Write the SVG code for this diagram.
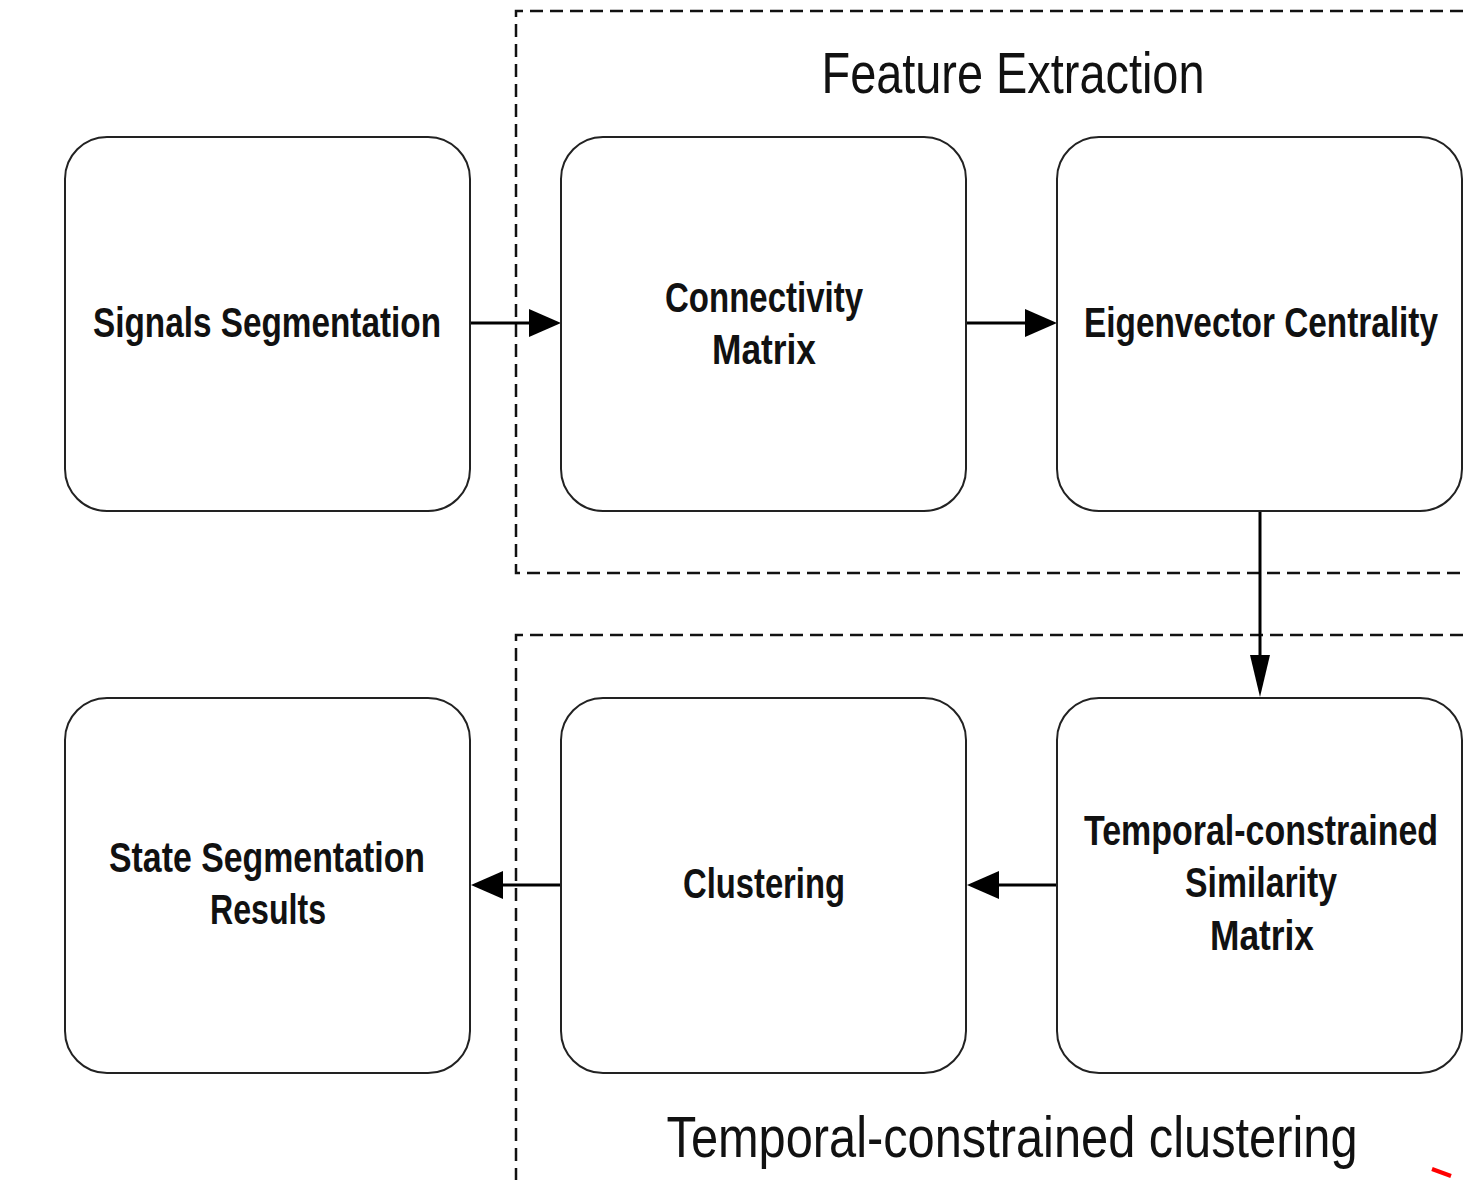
<svg xmlns="http://www.w3.org/2000/svg" width="1463" height="1184" viewBox="0 0 1463 1184">
<style>
.node{fill:#fff;stroke:#222;stroke-width:2}
.lbl{font-family:"Liberation Sans",Arial,sans-serif;font-weight:bold;font-size:42px;fill:#111;text-anchor:middle}
.ttl{font-family:"Liberation Sans",Arial,sans-serif;font-size:58px;fill:#111;text-anchor:middle}
.dash{fill:none;stroke:#111;stroke-width:2.5;stroke-dasharray:13 7}
.conn{stroke:#000;stroke-width:3;fill:none}
</style>
<defs>
<marker id="ah" markerWidth="10" markerHeight="8" refX="10" refY="4" orient="auto" markerUnits="userSpaceOnUse" viewBox="0 0 10 8">
<path d="M0,0 L10,4 L0,8 Z" fill="#000"/>
</marker>
</defs>
<rect width="1463" height="1184" fill="#fff"/>
<g id="groups">
<path class="dash" d="M1463,11 H516 V573 H1463"/>
<path class="dash" d="M1463,635 H516 V1180"/>
<text class="ttl" x="1013" y="93" textLength="383" lengthAdjust="spacingAndGlyphs">Feature Extraction</text>
<text class="ttl" x="1012" y="1157" textLength="691" lengthAdjust="spacingAndGlyphs">Temporal-constrained clustering</text>
</g>
<g id="connectors">
<line class="conn" x1="470" y1="323" x2="530" y2="323"/>
<path d="M529,309 L561,323 L529,337 Z" fill="#000"/>
<line class="conn" x1="966" y1="323" x2="1026" y2="323"/>
<path d="M1025,309 L1057,323 L1025,337 Z" fill="#000"/>
<line class="conn" x1="1260" y1="511" x2="1260" y2="657"/>
<path d="M1250,655 L1260,697 L1270,655 Z" fill="#000"/>
<line class="conn" x1="1057" y1="885" x2="997" y2="885"/>
<path d="M999,871 L967,885 L999,899 Z" fill="#000"/>
<line class="conn" x1="561" y1="885" x2="501" y2="885"/>
<path d="M503,871 L471,885 L503,899 Z" fill="#000"/>
</g>
<g id="n1"><rect class="node" x="65" y="137" width="405" height="374" rx="42"/>
<text class="lbl" x="267" y="337" textLength="348" lengthAdjust="spacingAndGlyphs">Signals Segmentation</text></g>
<g id="n2"><rect class="node" x="561" y="137" width="405" height="374" rx="42"/>
<text class="lbl" x="764" y="312" textLength="198" lengthAdjust="spacingAndGlyphs">Connectivity</text>
<text class="lbl" x="764" y="364" textLength="104" lengthAdjust="spacingAndGlyphs">Matrix</text></g>
<g id="n3"><rect class="node" x="1057" y="137" width="405" height="374" rx="42"/>
<text class="lbl" x="1261" y="337" textLength="354" lengthAdjust="spacingAndGlyphs">Eigenvector Centrality</text></g>
<g id="n4"><rect class="node" x="65" y="698" width="405" height="375" rx="42"/>
<text class="lbl" x="267" y="872" textLength="316" lengthAdjust="spacingAndGlyphs">State Segmentation</text>
<text class="lbl" x="268" y="924" textLength="116" lengthAdjust="spacingAndGlyphs">Results</text></g>
<g id="n5"><rect class="node" x="561" y="698" width="405" height="375" rx="42"/>
<text class="lbl" x="764" y="898" textLength="162" lengthAdjust="spacingAndGlyphs">Clustering</text></g>
<g id="n6"><rect class="node" x="1057" y="698" width="405" height="375" rx="42"/>
<text class="lbl" x="1261" y="845" textLength="354" lengthAdjust="spacingAndGlyphs">Temporal-constrained</text>
<text class="lbl" x="1261" y="897" textLength="152" lengthAdjust="spacingAndGlyphs">Similarity</text>
<text class="lbl" x="1262" y="950" textLength="104" lengthAdjust="spacingAndGlyphs">Matrix</text></g>
<line x1="1432" y1="1169" x2="1451" y2="1176" stroke="#f00" stroke-width="4"/>
</svg>
